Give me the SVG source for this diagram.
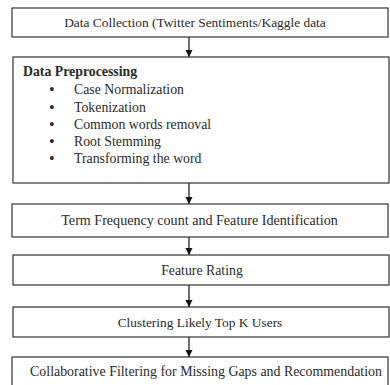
<svg xmlns="http://www.w3.org/2000/svg" width="390" height="385" viewBox="0 0 390 385">
<defs>
<marker id="ah" markerWidth="8" markerHeight="8" refX="7" refY="3.5" orient="auto" markerUnits="userSpaceOnUse">
<path d="M0,0 L7,3.5 L0,7 z" fill="#111"/>
</marker>
<style>
.box{fill:#fff;stroke:#333;stroke-width:1.2}
.c{text-anchor:middle}
.bl{font-size:16px}
.con{stroke:#111;stroke-width:1.2;fill:none;marker-end:url(#ah)}
</style>
</defs>
<rect width="390" height="385" fill="#fff"/>
<g id="connectors">
<line class="con" x1="189" y1="37" x2="189" y2="57"/>
<line class="con" x1="189" y1="183" x2="189" y2="204"/>
<line class="con" x1="189" y1="237" x2="189" y2="255"/>
<line class="con" x1="189" y1="285" x2="189" y2="307"/>
<line class="con" x1="189" y1="337" x2="189" y2="357"/>
</g>
<g font-family="'Liberation Serif', 'Times New Roman', serif" font-size="13.4" fill="#2a2a2a">
<g id="n1">
<rect class="box" x="12" y="8" width="376" height="29"/>
<text class="c" x="195" y="27">Data Collection (Twitter Sentiments/Kaggle data</text>
</g>
<g id="n2">
<rect class="box" x="13" y="57" width="376" height="126"/>
<text font-weight="bold" font-size="13.8" x="23" y="76">Data Preprocessing</text>
<text class="bl" x="49" y="95">•</text><text x="74" y="94" font-size="13.8">Case Normalization</text>
<text class="bl" x="49" y="113">•</text><text x="74" y="112" font-size="13.8">Tokenization</text>
<text class="bl" x="49" y="130">•</text><text x="74" y="129" font-size="13.8">Common words removal</text>
<text class="bl" x="49" y="147">•</text><text x="74" y="146" font-size="13.8">Root Stemming</text>
<text class="bl" x="49" y="164">•</text><text x="74" y="163" font-size="13.8">Transforming the word</text>
</g>
<g id="n3">
<rect class="box" x="12" y="204" width="376" height="33"/>
<text class="c" x="199.5" y="225" font-size="14.1">Term Frequency count and Feature Identification</text>
</g>
<g id="n4">
<rect class="box" x="13" y="255" width="376" height="30"/>
<text class="c" x="202" y="275" font-size="13.8">Feature Rating</text>
</g>
<g id="n5">
<rect class="box" x="13" y="307" width="376" height="30"/>
<text class="c" x="200" y="327">Clustering Likely Top K Users</text>
</g>
<g id="n6">
<rect class="box" x="12" y="357" width="376" height="40"/>
<text class="c" x="206" y="376" font-size="13.9">Collaborative Filtering for Missing Gaps and Recommendation</text>
</g>
</g>
</svg>
